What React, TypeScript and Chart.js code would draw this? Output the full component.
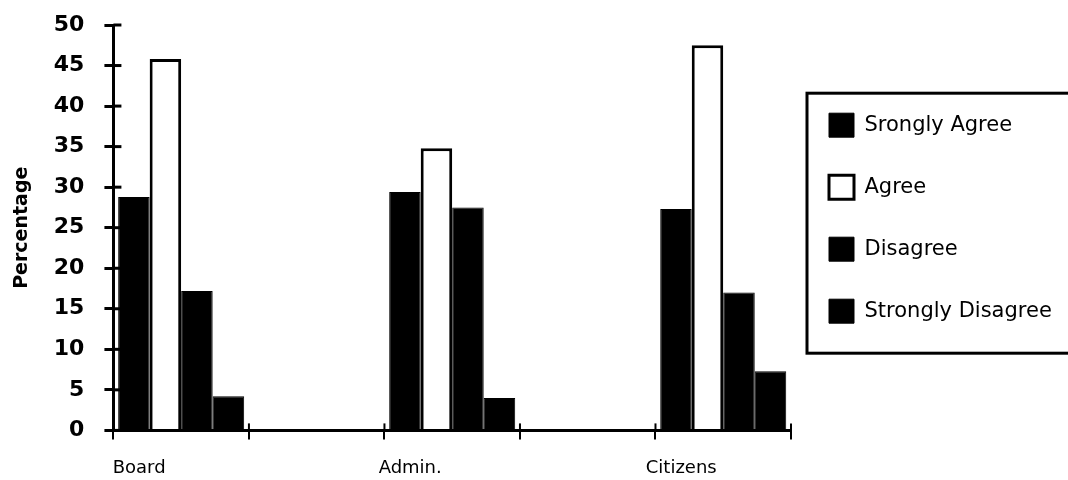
import React, { useEffect, useRef } from "react";
import { Chart, registerables } from "chart.js";

Chart.register(...registerables);

const categories = ["Board", "", "Admin.", "", "Citizens"];
const seriesNames = ["Srongly Agree", "Agree", "Disagree", "Strongly Disagree"];
const stronglyAgree = [28.8, null, 29.4, null, 27.3];
const agree = [45.8, null, 34.8, null, 47.5];
const disagree = [17.2, null, 27.5, null, 17.0];
const stronglyDisagree = [4.2, null, 4.0, null, 7.3];
const yTicks = [0, 5, 10, 15, 20, 25, 30, 35, 40, 45, 50];

const legendBorder = {
  id: "legendBorder",
  afterDraw(chart: any) {
    const lg = chart.legend;
    if (!lg || !lg.legendHitBoxes || !lg.legendHitBoxes.length) return;
    const boxes = lg.legendHitBoxes;
    const first = boxes[0];
    const last = boxes[boxes.length - 1];
    const ctx = chart.ctx;
    ctx.save();
    ctx.strokeStyle = "#000";
    ctx.lineWidth = 3;
    const x0 = first.left - 22;
    const y0 = first.top - 20;
    const y1 = last.top + last.height + 30;
    ctx.strokeRect(x0, y0, chart.width + 10 - x0, y1 - y0);
    ctx.restore();
  },
};

// tick marks that cross the axis lines (inner half)
const crossTicks = {
  id: "crossTicks",
  afterDraw(chart: any) {
    const { x, y } = chart.scales;
    const ctx = chart.ctx;
    ctx.save();
    ctx.strokeStyle = "#000";
    ctx.lineWidth = 3;
    const ax = x.left;
    y.ticks.forEach((t: any) => {
      const py = y.getPixelForValue(t.value);
      ctx.beginPath();
      ctx.moveTo(ax, py);
      ctx.lineTo(ax + 8, py);
      ctx.stroke();
    });
    const n = x.ticks.length;
    const step = n > 1 ? x.getPixelForValue(1) - x.getPixelForValue(0) : x.width;
    const start = x.getPixelForValue(0) - step / 2;
    const by = y.bottom;
    ctx.lineWidth = 2;
    for (let i = 0; i <= n; i++) {
      const px = start + i * step;
      ctx.beginPath();
      ctx.moveTo(px, by);
      ctx.lineTo(px, by - 7);
      ctx.stroke();
    }
    ctx.restore();
  },
};

export default function App() {
  const ref = useRef<HTMLCanvasElement | null>(null);
  useEffect(() => {
    document.body.style.margin = "0";
    if (!ref.current) return;
    const black = "#000000";
    const chart = new Chart(ref.current, {
      type: "bar",
      data: {
        labels: categories,
        datasets: [
          { label: seriesNames[0], data: stronglyAgree, backgroundColor: black, borderColor: black, borderWidth: 1 },
          { label: seriesNames[1], data: agree, backgroundColor: "#ffffff", borderColor: black, borderWidth: 3 },
          { label: seriesNames[2], data: disagree, backgroundColor: black, borderColor: black, borderWidth: 1 },
          { label: seriesNames[3], data: stronglyDisagree, backgroundColor: black, borderColor: black, borderWidth: 1 },
        ],
      },
      options: {
        animation: false,
        responsive: false,
        layout: { padding: { top: 25, left: 11, bottom: -17, right: 17 } },
        datasets: { bar: { barPercentage: 1, categoryPercentage: 0.93, skipNull: false } },
        plugins: {
          legend: {
            position: "right",
            align: "start",
            title: { display: true, text: "", font: { size: 16 }, padding: { top: 31, bottom: 0 } },
            labels: {
              color: "#000",
              font: { family: "DejaVu Sans", size: 21 },
              boxWidth: 25,
              boxHeight: 24,
              padding: 38,
            },
          },
          tooltip: { enabled: false },
        },
        scales: {
          x: {
            offset: true,
            grid: { display: true, drawOnChartArea: false, offset: true, color: "#000", lineWidth: 2, tickLength: 9 },
            border: { display: true, color: "#000", width: 3 },
            ticks: { color: "#000", font: { family: "DejaVu Sans", size: 18 }, padding: 18, labelOffset: -42, maxRotation: 0, autoSkip: false },
          },
          y: {
            min: 0,
            max: 50,
            afterBuildTicks: (axis: any) => {
              axis.ticks = yTicks.map((v) => ({ value: v }));
            },
            afterFit: (axis: any) => {
              axis.paddingTop = 0;
            },
            grid: { display: true, drawOnChartArea: false, color: "#000", lineWidth: 3, tickLength: 9 },
            border: { display: true, color: "#000", width: 3 },
            ticks: { color: "#000", font: { family: "DejaVu Sans", size: 22, weight: "bold" }, padding: 20 },
            title: {
              display: true,
              text: "Percentage",
              color: "#000",
              font: { family: "DejaVu Sans", size: 19, weight: "bold" },
              padding: { top: 0, bottom: 0 },
            },
          },
        },
      },
      plugins: [legendBorder, crossTicks],
    });
    return () => chart.destroy();
  }, []);
  return <canvas ref={ref} width={1068} height={480} style={{ display: "block" }} />;
}
